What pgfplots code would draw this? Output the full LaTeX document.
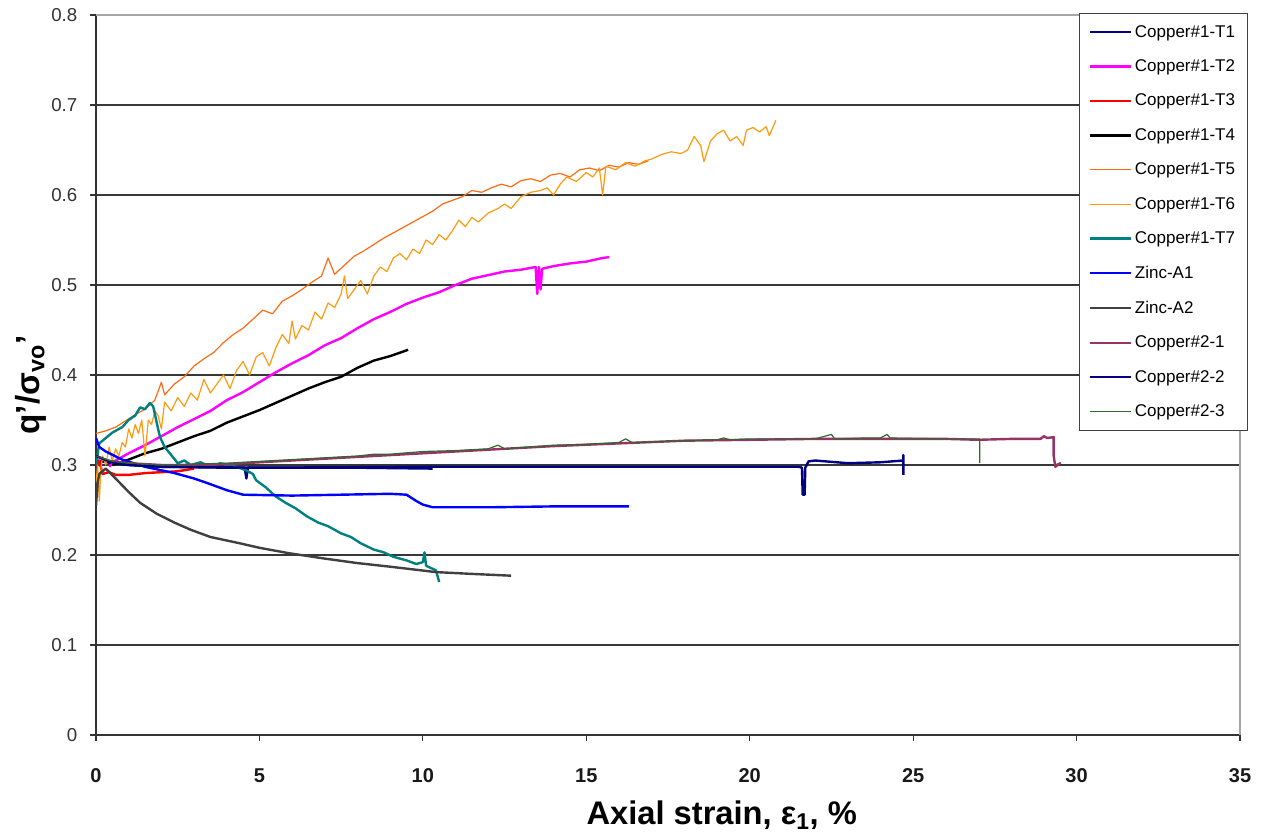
\documentclass[border=0pt]{standalone}
\usepackage{fontspec}
\setmainfont{Liberation Sans}
\usepackage{pgfplots}
\pgfplotsset{compat=1.18}
\definecolor{cNavy}{HTML}{000080}
\definecolor{cMag}{HTML}{FF00FF}
\definecolor{cRed}{HTML}{FF0000}
\definecolor{cT5}{HTML}{FF6A13}
\definecolor{cT6}{HTML}{FF9A10}
\definecolor{cTeal}{HTML}{008080}
\definecolor{cBlue}{HTML}{0000FF}
\definecolor{cGray}{HTML}{404040}
\definecolor{cPlum}{HTML}{993366}
\definecolor{cGreen}{HTML}{336633}
\begin{document}
\begin{tikzpicture}
\begin{axis}[
  scale only axis, width=858pt, height=540pt,
  xmin=0, xmax=35, ymin=0, ymax=0.8,
  xtick={0,5,...,35}, ytick={0,0.1,...,0.8},
  yticklabel style={/pgf/number format/fixed,/pgf/number format/precision=1},
  /pgf/number format/assume math mode=true,
  axis x line*=bottom, axis y line*=left,
  axis line style={draw=black!80, line width=1pt, -},
  tick align=outside, major tick length=4.5pt,
  tick style={draw=black!80, line width=0.8pt},
  ymajorgrids, grid style={draw=black!78, line width=1.1pt},
  xticklabel style={font=\bfseries\fontsize{15}{17}\selectfont, text=black!90, yshift=-17pt},
  yticklabel style={font=\fontsize{14}{16}\selectfont, text=black!80, xshift=-6pt},
  xlabel={\textbf{Axial strain, ε\textsubscript{1}, \%}},
  ylabel={\textbf{q'/σ\textsubscript{vo}'}},
  xlabel style={font=\fontsize{24.5}{28}\selectfont, at={(axis description cs:0.547,-0.111)}, anchor=center},
  ylabel style={font=\fontsize{25}{28}\selectfont, at={(axis description cs:-0.057,0.486)}, anchor=center},
  legend style={at={(0.859,1.003)}, anchor=north west, draw=black!75, line width=0.7pt, fill=white,
    font=\fontsize{12.75}{14}\selectfont, row sep=11.4pt, inner xsep=7pt, inner ysep=7pt},
  legend cell align=left,
  legend image code/.code={\draw[#1] (2pt,0pt) -- (28pt,0pt); \path (0pt,0pt) -- (31pt,0pt);},
  after end axis/.code={\draw[black!35, line width=1.2pt] (rel axis cs:0,1) -- (rel axis cs:1,1) -- (rel axis cs:1,0);},
  every axis plot/.append style={line join=round},
]
% Copper#1-T1
\addplot[cNavy, line width=1.8pt] coordinates {(0,0.305) (0.5,0.302) (1,0.300) (2,0.298) (4,0.297) (4.55,0.297) (4.6,0.285) (4.65,0.297) (6,0.297) (8,0.297) (10.3,0.296)};
\addlegendentry{Copper\#1-T1}
% Copper#1-T2
\addplot[cMag, line width=1.8pt] coordinates {(0.4,0.298) (0.6,0.305) (1.0,0.313) (1.5,0.322) (2.0,0.332) (2.5,0.342) (3.0,0.351) (3.5,0.360) (4.0,0.372) (4.5,0.381) (5.0,0.392) (5.5,0.403) (6.0,0.413) (6.5,0.422) (7.0,0.433) (7.5,0.441) (8.0,0.452) (8.5,0.462) (9.0,0.470) (9.5,0.479) (10.0,0.486) (10.5,0.492) (11.0,0.500) (11.5,0.507) (12.0,0.511) (12.5,0.515) (13.0,0.517) (13.45,0.520) (13.5,0.490) (13.55,0.520) (13.6,0.495) (13.65,0.518) (14.0,0.521) (14.5,0.524) (15.0,0.526) (15.5,0.530) (15.7,0.531)};
\addlegendentry{Copper\#1-T2}
% Copper#1-T3
\addplot[cRed, line width=1.8pt] coordinates {(0,0.298) (0.1,0.305) (0.2,0.290) (0.4,0.292) (0.6,0.289) (1.0,0.289) (1.5,0.291) (2.0,0.292) (2.5,0.293) (3.0,0.296)};
\addlegendentry{Copper\#1-T3}
% Copper#1-T4
\addplot[black, line width=1.8pt] coordinates {(0.5,0.300) (1.0,0.306) (1.5,0.313) (2.0,0.318) (2.5,0.325) (3.0,0.332) (3.5,0.338) (4.0,0.347) (4.5,0.354) (5.0,0.361) (5.5,0.369) (6.0,0.377) (6.5,0.385) (7.0,0.392) (7.5,0.398) (8.0,0.408) (8.5,0.416) (9.0,0.421) (9.55,0.428)};
\addlegendentry{Copper\#1-T4}
% Copper#1-T5
\addplot[cT5, line width=0.9pt] coordinates {(0,0.335) (0.3,0.338) (0.6,0.342) (0.9,0.349) (1.2,0.356) (1.5,0.362) (1.8,0.372) (2.0,0.392) (2.1,0.378) (2.4,0.390) (2.7,0.398) (3.0,0.410) (3.3,0.418) (3.6,0.425) (3.9,0.436) (4.2,0.445) (4.5,0.452) (4.8,0.462) (5.1,0.472) (5.4,0.468) (5.7,0.482) (6.0,0.488) (6.3,0.495) (6.6,0.503) (6.9,0.510) (7.1,0.530) (7.3,0.512) (7.6,0.522) (7.9,0.532) (8.2,0.538) (8.5,0.545) (8.8,0.552) (9.1,0.558) (9.4,0.564) (9.7,0.570) (10.0,0.576) (10.3,0.582) (10.6,0.590) (10.9,0.594) (11.2,0.598) (11.5,0.605) (11.8,0.603) (12.1,0.608) (12.4,0.612) (12.7,0.609) (13.0,0.616) (13.3,0.618) (13.6,0.615) (13.9,0.622) (14.2,0.624) (14.5,0.620) (14.8,0.628) (15.1,0.630) (15.4,0.627) (15.7,0.633) (16.0,0.631) (16.3,0.636) (16.6,0.634) (16.9,0.638)};
\addlegendentry{Copper\#1-T5}
% Copper#1-T6
\addplot[cT6, line width=0.9pt] coordinates {(0,0.280) (0.05,0.300) (0.1,0.260) (0.15,0.295) (0.2,0.310) (0.3,0.300) (0.4,0.320) (0.5,0.305) (0.6,0.318) (0.7,0.310) (0.8,0.325) (0.9,0.320) (1.0,0.340) (1.1,0.330) (1.2,0.345) (1.3,0.335) (1.4,0.350) (1.5,0.310) (1.6,0.350) (1.7,0.345) (1.8,0.360) (1.9,0.355) (2.0,0.340) (2.1,0.370) (2.3,0.360) (2.5,0.375) (2.7,0.365) (2.9,0.380) (3.1,0.372) (3.3,0.395) (3.5,0.380) (3.7,0.390) (3.9,0.400) (4.1,0.385) (4.3,0.405) (4.5,0.415) (4.7,0.400) (4.9,0.420) (5.1,0.425) (5.3,0.410) (5.5,0.430) (5.7,0.445) (5.9,0.435) (6.0,0.460) (6.1,0.440) (6.3,0.455) (6.5,0.450) (6.7,0.470) (6.9,0.462) (7.1,0.480) (7.3,0.475) (7.5,0.490) (7.6,0.510) (7.7,0.485) (7.9,0.495) (8.1,0.505) (8.3,0.490) (8.5,0.510) (8.7,0.520) (8.9,0.515) (9.1,0.530) (9.3,0.535) (9.5,0.528) (9.7,0.540) (9.9,0.535) (10.1,0.550) (10.3,0.545) (10.5,0.556) (10.7,0.550) (10.9,0.560) (11.1,0.572) (11.3,0.565) (11.5,0.575) (11.7,0.570) (12.0,0.580) (12.3,0.585) (12.5,0.590) (12.7,0.585) (13.0,0.598) (13.3,0.603) (13.6,0.605) (13.8,0.608) (14.0,0.600) (14.2,0.612) (14.4,0.620) (14.7,0.615) (15.0,0.625) (15.2,0.620) (15.4,0.630) (15.5,0.600) (15.6,0.632) (15.9,0.628) (16.2,0.636) (16.5,0.632) (16.8,0.638) (17.0,0.640) (17.3,0.645) (17.6,0.648) (17.9,0.646) (18.1,0.650) (18.3,0.665) (18.5,0.655) (18.6,0.637) (18.8,0.660) (19.0,0.668) (19.2,0.672) (19.4,0.660) (19.6,0.665) (19.8,0.655) (19.9,0.672) (20.1,0.675) (20.3,0.670) (20.5,0.676) (20.6,0.666) (20.8,0.683)};
\addlegendentry{Copper\#1-T6}
% Copper#1-T7
\addplot[cTeal, line width=1.8pt] coordinates {(0,0.300) (0.1,0.324) (0.3,0.330) (0.5,0.336) (0.8,0.342) (1.0,0.350) (1.2,0.355) (1.35,0.364) (1.5,0.362) (1.65,0.369) (1.75,0.365) (1.8,0.357) (1.9,0.340) (1.96,0.331) (2.1,0.320) (2.26,0.313) (2.5,0.302) (2.7,0.305) (2.9,0.300) (3.2,0.303) (3.5,0.298) (3.8,0.302) (4.0,0.300) (4.3,0.298) (4.6,0.294) (4.8,0.290) (4.9,0.283) (5.2,0.275) (5.5,0.265) (5.8,0.258) (6.1,0.252) (6.45,0.243) (6.8,0.236) (7.1,0.232) (7.5,0.224) (7.8,0.220) (8.1,0.213) (8.5,0.206) (8.8,0.203) (9.1,0.198) (9.5,0.194) (9.8,0.190) (10.0,0.192) (10.05,0.203) (10.1,0.188) (10.4,0.183) (10.5,0.170)};
\addlegendentry{Copper\#1-T7}
% Zinc-A1
\addplot[cBlue, line width=1.8pt] coordinates {(0,0.330) (0.05,0.325) (0.1,0.320) (0.3,0.315) (0.8,0.306) (1.5,0.298) (2.4,0.291) (3.0,0.285) (3.4,0.280) (4.0,0.272) (4.5,0.267) (6.0,0.266) (7.5,0.267) (9.0,0.268) (9.5,0.267) (9.8,0.260) (10.0,0.256) (10.3,0.253) (12.0,0.253) (14.0,0.254) (16.3,0.254)};
\addlegendentry{Zinc-A1}
% Zinc-A2
\addplot[cGray, line width=1.8pt] coordinates {(0,0.255) (0.05,0.280) (0.1,0.290) (0.3,0.296) (0.6,0.285) (1.0,0.270) (1.35,0.258) (1.85,0.246) (2.4,0.236) (2.9,0.228) (3.5,0.220) (4.4,0.213) (5.0,0.208) (5.9,0.202) (7.0,0.196) (8.0,0.191) (9.0,0.187) (10.4,0.181) (11.5,0.179) (12.7,0.177)};
\addlegendentry{Zinc-A2}
% Copper#2-1
\addplot[cPlum, line width=1.8pt] coordinates {(0,0.310) (0.3,0.305) (1,0.302) (2,0.300) (3,0.300) (4,0.301) (5,0.303) (6,0.305) (7,0.307) (8,0.309) (9,0.311) (10,0.313) (12,0.317) (14,0.321) (16,0.324) (18,0.327) (20,0.328) (22,0.329) (24,0.329) (26,0.329) (27,0.328) (28,0.329) (28.9,0.329) (29.0,0.332) (29.1,0.330) (29.3,0.331) (29.3,0.310) (29.35,0.298) (29.5,0.302) (29.4,0.300)};
\addlegendentry{Copper\#2-1}
% Copper#2-2
\addplot[cNavy, line width=1.8pt] coordinates {(0,0.310) (0.5,0.303) (1,0.300) (2,0.298) (5,0.297) (10,0.298) (15,0.298) (20,0.298) (21.5,0.298) (21.6,0.297) (21.62,0.267) (21.68,0.267) (21.7,0.297) (21.8,0.304) (22,0.305) (23,0.302) (24,0.303) (24.7,0.305) (24.7,0.311) (24.7,0.289)};
\addlegendentry{Copper\#2-2}
% Copper#2-3
\addplot[cGreen, line width=0.9pt] coordinates {(0,0.310) (0.5,0.304) (1,0.302) (2,0.300) (3,0.301) (4,0.302) (5,0.304) (6,0.306) (7,0.308) (8,0.310) (8.5,0.312) (9,0.312) (10,0.315) (11,0.316) (12,0.318) (12.3,0.322) (12.5,0.318) (14,0.322) (15,0.323) (16,0.325) (16.2,0.329) (16.4,0.325) (18,0.327) (19,0.328) (19.2,0.330) (19.4,0.328) (20,0.329) (21,0.329) (22,0.329) (22.5,0.334) (22.6,0.329) (23.5,0.330) (24,0.330) (24.2,0.334) (24.3,0.330) (26,0.329) (27.04,0.329) (27.04,0.302)};
\addlegendentry{Copper\#2-3}
\end{axis}
\pgfresetboundingbox
\path (-72pt,-76.5pt) rectangle (875.25pt,551.25pt);
\end{tikzpicture}
\end{document}
